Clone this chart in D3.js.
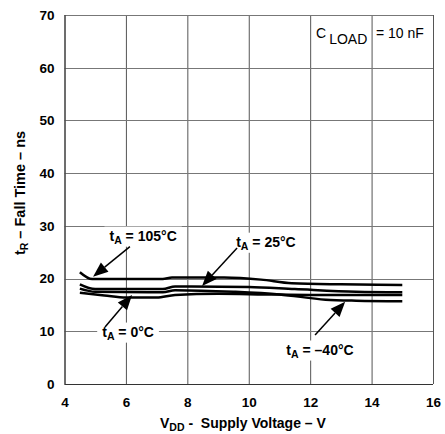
<!DOCTYPE html>
<html><head><meta charset="utf-8">
<script src="https://cdn.jsdelivr.net/npm/d3@7"></script>
<style>
html,body{margin:0;padding:0;background:#fff;}
svg{display:block;font-family:Arial,"Liberation Sans",Helvetica,sans-serif;}
</style></head>
<body><svg id="c" width="445" height="434"></svg>
<script>
// ---- data ----
const xTicks = [4, 6, 8, 10, 12, 14, 16];
const yTicks = [0, 10, 20, 30, 40, 50, 60, 70];
const seriesNames = ["105", "25", "0", "-40"];
const t105 = [[4.5,21.2],[4.9,19.9],[7.2,19.9],[7.5,20.2],[9.2,20.2],[10.4,19.8],[11.4,19.1],[13,18.9],[15,18.8]];
const t25  = [[4.5,18.9],[5.0,18.0],[7.2,18.0],[7.6,18.5],[10.0,18.4],[11.5,18.0],[13.5,17.5],[15,17.4]];
const t0   = [[4.5,17.3],[5.3,16.8],[6.0,16.4],[7.0,16.4],[7.6,16.9],[9.0,17.1],[10.5,17.0],[12,16.9],[15,16.9]];
const tm40 = [[4.5,18.1],[5.0,17.5],[7.2,17.4],[7.6,17.8],[9.5,17.5],[11,17.0],[12.5,16.0],[13.5,15.8],[15,15.7]];
// annotations: label text, label center (V, ns), arrow start and tip (V, ns)
const annLabels = ["105°C", "25°C", "0°C", "–40°C"];
const annPos = [[6.56, 27.9], [10.56, 26.75], [6.07, 9.7], [12.32, 6.3]];
const annFrom = [[6.13, 26.05], [9.62, 25.8], [5.32, 10.8], [12.16, 9.3]];
const annTo = [[4.93, 20.36], [8.48, 18.6], [6.2, 16.9], [13.14, 15.6]];

// ---- chart ----
const svg = d3.select("#c");
const x = d3.scaleLinear().domain([4, 16]).range([64.5, 433]);
const y = d3.scaleLinear().domain([0, 70]).range([384, 15]);

const grid = svg.append("g");
grid.selectAll("line.v").data(xTicks).join("line")
  .attr("x1", d => x(d) + 0.5).attr("x2", d => x(d) + 0.5)
  .attr("y1", y(70)).attr("y2", y(0))
  .attr("stroke", "#555").attr("stroke-width", 1);
grid.selectAll("line.h").data(yTicks).join("line")
  .attr("x1", x(4)).attr("x2", x(16))
  .attr("y1", d => Math.round(y(d)) + 0.5).attr("y2", d => Math.round(y(d)) + 0.5)
  .attr("stroke", "#777").attr("stroke-width", 1);
// frame
svg.append("line").attr("x1", x(4)+0.5).attr("x2", x(4)+0.5).attr("y1", y(70)).attr("y2", y(0)).attr("stroke", "#333");
svg.append("line").attr("x1", x(4)).attr("x2", x(16)).attr("y1", Math.round(y(0))+0.5).attr("y2", Math.round(y(0))+0.5).attr("stroke", "#333");

// axes labels (via d3 axes, domain hidden)
const xAxis = svg.append("g").attr("transform", `translate(0,${y(0)})`)
  .call(d3.axisBottom(x).tickValues(xTicks).tickSize(0).tickPadding(13).tickFormat(d3.format("d")));
const yAxis = svg.append("g").attr("transform", `translate(${x(4)},0)`)
  .call(d3.axisLeft(y).tickValues(yTicks).tickSize(0).tickPadding(10).tickFormat(d3.format("d")));
[xAxis, yAxis].forEach(a => {
  a.select(".domain").remove();
  a.selectAll("text").attr("font-size", 13.5).attr("font-weight", "bold").attr("fill", "#000")
    .attr("font-family", "Arial, 'Liberation Sans', sans-serif");
});

// curves
const line = d3.line().x(d => x(d[0])).y(d => y(d[1])).curve(d3.curveMonotoneX);
const series = [t105, t25, t0, tm40];
svg.append("g").selectAll("path").data(series).join("path")
  .attr("d", line).attr("fill", "none").attr("stroke", "#000").attr("stroke-width", 2.5);

// annotations
const ann = svg.append("g");
annLabels.forEach((lab, i) => {
  const g = ann.append("g");
  const t = g.append("text")
    .attr("x", x(annPos[i][0])).attr("y", y(annPos[i][1]))
    .attr("text-anchor", "middle").attr("dominant-baseline", "middle")
    .attr("font-size", 14).attr("font-weight", "bold");
  t.append("tspan").text("t");
  t.append("tspan").attr("font-size", 10.5).attr("dy", 4).text("A");
  t.append("tspan").attr("dy", -4).text(" = " + lab);
  const bb = t.node().getBBox();
  g.insert("rect", "text").attr("x", bb.x - 5).attr("y", bb.y - 1)
    .attr("width", bb.width + 10).attr("height", bb.height + 2).attr("fill", "#fff");
  // arrow
  const x1 = x(annFrom[i][0]), y1 = y(annFrom[i][1]), x2 = x(annTo[i][0]), y2 = y(annTo[i][1]);
  const ang = Math.atan2(y2 - y1, x2 - x1);
  const L = 15, W = 6;
  const bx = x2 - L * Math.cos(ang), by = y2 - L * Math.sin(ang);
  g.append("line").attr("x1", x1).attr("y1", y1).attr("x2", bx).attr("y2", by)
    .attr("stroke", "#000").attr("stroke-width", 1.5);
  g.append("path").attr("d", `M${x2},${y2}L${bx + W*Math.sin(ang)},${by - W*Math.cos(ang)}L${bx - W*Math.sin(ang)},${by + W*Math.cos(ang)}Z`)
    .attr("fill", "#000");
});

// C_LOAD note
const cl = svg.append("text").attr("x", 316).attr("y", 38).attr("font-size", 14).attr("fill", "#000");
cl.append("tspan").text("C");
cl.append("tspan").attr("dx", 3).attr("dy", 6).text("LOAD");
svg.append("text").attr("x", 376).attr("y", 38).attr("font-size", 14).text("= 10 nF");

// axis titles
const xt = svg.append("text").attr("x", 160).attr("y", 428).attr("font-size", 14).attr("font-weight", "bold");
xt.append("tspan").text("V");
xt.append("tspan").attr("font-size", 10.5).attr("dy", 3).text("DD");
xt.append("tspan").attr("dy", -3).attr("xml:space", "preserve").text(" -  Supply Voltage – V");

const yt = svg.append("text").attr("transform", "translate(25,193) rotate(-90)")
  .attr("text-anchor", "middle").attr("font-size", 14.5).attr("font-weight", "bold");
yt.append("tspan").text("t");
yt.append("tspan").attr("font-size", 10.5).attr("dy", 3).text("R");
yt.append("tspan").attr("dy", -3).text(" – Fall Time – ns");
</script></body></html>
